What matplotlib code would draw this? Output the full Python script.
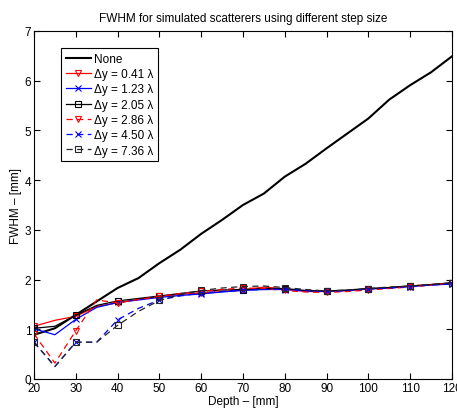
import matplotlib
matplotlib.use("Agg")
import matplotlib.pyplot as plt

plt.rcParams["font.family"] = ["Liberation Sans", "DejaVu Sans"]

depth = [20, 25, 30, 35, 40, 45, 50, 55, 60, 65, 70, 75, 80, 85, 90, 95, 100, 105, 110, 115, 120]

fwhm_none = [0.89, 1.02, 1.29, 1.56, 1.83, 2.03, 2.33, 2.60, 2.92, 3.20, 3.50, 3.73, 4.07, 4.33,
             4.64, 4.94, 5.24, 5.62, 5.91, 6.17, 6.49]
fwhm_041 = [1.06, 1.18, 1.26, 1.46, 1.53, 1.60, 1.66, 1.70, 1.73, 1.76, 1.79, 1.85, 1.81, 1.76,
            1.76, 1.78, 1.81, 1.84, 1.87, 1.90, 1.93]
fwhm_123 = [1.01, 0.89, 1.20, 1.44, 1.54, 1.59, 1.64, 1.68, 1.71, 1.75, 1.78, 1.80, 1.80, 1.77,
            1.76, 1.78, 1.81, 1.83, 1.86, 1.89, 1.91]
fwhm_205 = [1.02, 1.06, 1.28, 1.48, 1.57, 1.62, 1.67, 1.72, 1.77, 1.79, 1.80, 1.82, 1.82, 1.78,
            1.77, 1.79, 1.82, 1.84, 1.87, 1.90, 1.93]
fwhm_286 = [0.91, 0.32, 0.97, 1.59, 1.53, 1.60, 1.66, 1.72, 1.76, 1.80, 1.83, 1.82, 1.78, 1.75,
            1.74, 1.76, 1.79, 1.82, 1.85, 1.89, 1.93]
fwhm_450 = [0.74, 0.25, 0.74, 0.74, 1.19, 1.42, 1.59, 1.67, 1.73, 1.76, 1.79, 1.80, 1.81, 1.78,
            1.76, 1.78, 1.81, 1.83, 1.86, 1.89, 1.91]
fwhm_736 = [0.74, 0.25, 0.74, 0.74, 1.08, 1.36, 1.58, 1.70, 1.78, 1.83, 1.86, 1.87, 1.84, 1.80,
            1.77, 1.79, 1.82, 1.85, 1.87, 1.90, 1.94]

labels = ["None", "\u0394y = 0.41 \u03bb", "\u0394y = 1.23 \u03bb", "\u0394y = 2.05 \u03bb",
          "\u0394y = 2.86 \u03bb", "\u0394y = 4.50 \u03bb", "\u0394y = 7.36 \u03bb"]

fig = plt.figure(figsize=(4.57, 4.10), dpi=100)
ax = fig.add_axes([0.0744, 0.0732, 0.9146, 0.8488])

ax.plot(depth, fwhm_none, color="black", lw=1.5, label=labels[0])
mk = dict(markevery=2, markersize=4, markerfacecolor="none", markeredgewidth=0.8)
dash = (5, 3.5)
ax.plot(depth, fwhm_041, color="red", lw=0.9, marker="v", label=labels[1], **mk)
ax.plot(depth, fwhm_123, color="blue", lw=0.9, marker="x", label=labels[2], **mk)
ax.plot(depth, fwhm_205, color="black", lw=0.9, marker="s", label=labels[3], **mk)
ax.plot(depth, fwhm_286, color="red", lw=0.9, dashes=dash, marker="v", label=labels[4], **mk)
ax.plot(depth, fwhm_450, color="blue", lw=0.9, dashes=dash, marker="x", label=labels[5], **mk)
ax.plot(depth, fwhm_736, color="0.15", lw=0.9, dashes=dash, marker="s", label=labels[6], **mk)

ax.set_xlim(20, 120)
ax.set_ylim(0, 7)
ax.set_xticks(range(20, 121, 10))
ax.set_yticks(range(0, 8))
ax.tick_params(direction="in", top=True, right=True, labelsize=8.5, length=4, pad=2)
ax.set_xlabel("Depth \u2013 [mm]", fontsize=8.5, labelpad=1)
ax.set_ylabel("FWHM \u2013 [mm]", fontsize=8.5, labelpad=2)
ax.set_title("FWHM for simulated scatterers using different step size", fontsize=8.5, pad=7)

leg = ax.legend(loc="upper left", bbox_to_anchor=(0.065, 0.951), borderaxespad=0,
                fontsize=8.5, fancybox=False, edgecolor="black", framealpha=1,
                handlelength=2.1, handletextpad=0.3, labelspacing=0.28, borderpad=0.4)
leg.get_frame().set_linewidth(0.8)

fig.savefig("out.png", dpi=100, facecolor="white")
